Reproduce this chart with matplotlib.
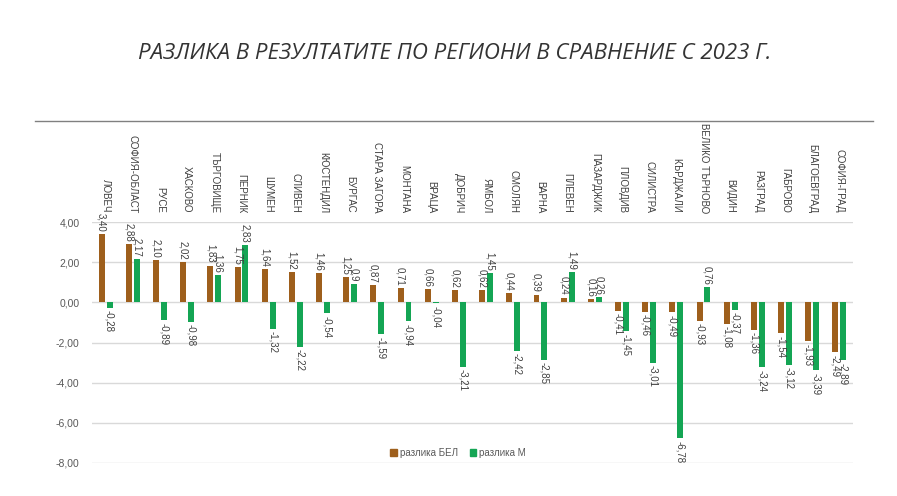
import numpy as np
import matplotlib
matplotlib.use('Agg')
import matplotlib.pyplot as plt
from matplotlib.lines import Line2D

# Данни
regions = ['ЛОВЕЧ', 'СОФИЯ-ОБЛАСТ', 'РУСЕ', 'ХАСКОВО', 'ТЪРГОВИЩЕ', 'ПЕРНИК',
           'ШУМЕН', 'СЛИВЕН', 'КЮСТЕНДИЛ', 'БУРГАС', 'СТАРА ЗАГОРА', 'МОНТАНА',
           'ВРАЦА', 'ДОБРИЧ', 'ЯМБОЛ', 'СМОЛЯН', 'ВАРНА', 'ПЛЕВЕН', 'ПАЗАРДЖИК',
           'ПЛОВДИВ', 'СИЛИСТРА', 'КЪРДЖАЛИ', 'ВЕЛИКО ТЪРНОВО', 'ВИДИН',
           'РАЗГРАД', 'ГАБРОВО', 'БЛАГОЕВГРАД', 'СОФИЯ-ГРАД']
razlika_bel = [3.40, 2.88, 2.10, 2.02, 1.83, 1.75, 1.64, 1.52, 1.46, 1.25, 0.87,
               0.71, 0.66, 0.62, 0.62, 0.44, 0.39, 0.24, 0.16, -0.41, -0.46,
               -0.49, -0.93, -1.08, -1.36, -1.54, -1.93, -2.49]
razlika_m = [-0.28, 2.17, -0.89, -0.98, 1.36, 2.83, -1.32, -2.22, -0.54, 0.9,
             -1.59, -0.94, -0.04, -3.21, 1.45, -2.42, -2.85, 1.49, 0.26, -1.45,
             -3.01, -6.78, 0.76, -0.37, -3.24, -3.12, -3.39, -2.89]
y_ticks = [4, 2, 0, -2, -4, -6, -8]

BROWN = '#9E5F1C'
GREEN = '#14A554'
GRID = '#D9D9D9'
TXT = '#404040'

plt.rcParams['font.family'] = ['Liberation Sans', 'DejaVu Sans']

fig = plt.figure(figsize=(8.97, 4.96), dpi=100)
ax = fig.add_axes([92 / 897, 33 / 496, 761 / 897, 241 / 496])

x = np.arange(len(regions))
w = 0.22
off = 0.145
ax.bar(x - off, razlika_bel, width=w, color=BROWN, zorder=3)
ax.bar(x + off, razlika_m, width=w, color=GREEN, zorder=3)

ax.set_xlim(-0.5, len(regions) - 0.5)
ax.set_ylim(-8, 4)
ax.set_yticks(y_ticks)
ax.set_yticklabels([f'{v:.2f}'.replace('.', ',') for v in y_ticks],
                   fontsize=7.5, color='#595959')
ax.tick_params(axis='y', length=0, pad=9)
ax.set_xticks([])
ax.grid(axis='y', color=GRID, linewidth=1, zorder=0)
for s in ax.spines.values():
    s.set_visible(False)


def lbl(xp, v, text):
    pad = 0.12
    if v >= 0:
        ax.text(xp, v + pad, text, rotation=-90, ha='center', va='bottom',
                fontsize=7, color=TXT, clip_on=False, zorder=4)
    else:
        ax.text(xp, v - pad, text, rotation=-90, ha='center', va='top',
                fontsize=7, color=TXT, clip_on=False, zorder=4)


for i in range(len(regions)):
    lbl(x[i] - off, razlika_bel[i], f'{razlika_bel[i]:.2f}'.replace('.', ','))
    lbl(x[i] + off, razlika_m[i], f'{razlika_m[i]:g}'.replace('.', ','))
    ax.text(x[i], 4.45, regions[i], rotation=-90, ha='center', va='bottom',
            fontsize=7, color=TXT, clip_on=False)

# заглавие и разделителна линия
fig.text(0.507, 0.893, 'РАЗЛИКА В РЕЗУЛТАТИТЕ ПО РЕГИОНИ В СРАВНЕНИЕ С 2023 Г.',
         ha='center', va='center', fontsize=16, style='italic', color='#333333',
         family=['Open Sans', 'DejaVu Sans'])
fig.add_artist(Line2D([35 / 897, 873 / 897], [1 - 121 / 496, 1 - 121 / 496],
                      color='#808080', linewidth=1))

handles = [plt.Rectangle((0, 0), 1, 1, color=BROWN),
           plt.Rectangle((0, 0), 1, 1, color=GREEN)]
ax.legend(handles, ['разлика БЕЛ', 'разлика М'], loc='center',
          bbox_to_anchor=(458 / 897, 1 - 453 / 496), bbox_transform=fig.transFigure,
          ncol=2, frameon=False, fontsize=7, handlelength=0.7, handleheight=0.7,
          handletextpad=0.3, columnspacing=1.2, labelcolor='#595959')

fig.savefig('out.png', dpi=100)
